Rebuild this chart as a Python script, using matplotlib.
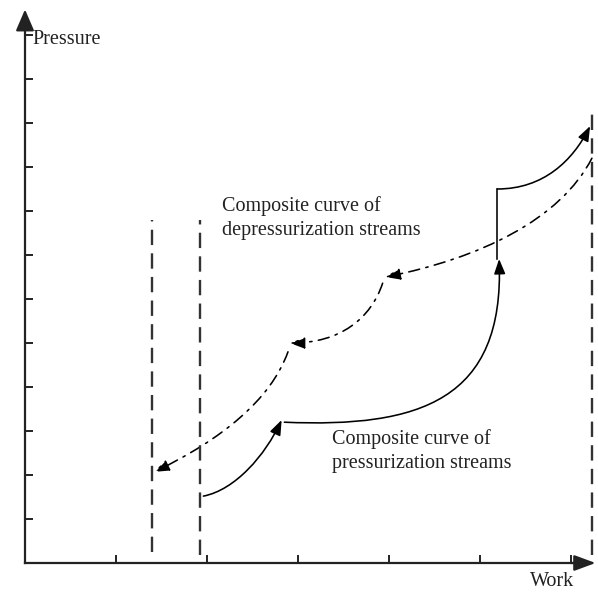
import matplotlib.pyplot as plt
from matplotlib.path import Path
from matplotlib.patches import FancyArrowPatch

plt.rcParams['font.family'] = ['Liberation Serif', 'DejaVu Serif']

# axis ticks (work / pressure units)
x_ticks = [1, 2, 3, 4, 5, 6]
y_ticks = [1, 2, 3, 4, 5, 6, 7, 8, 9, 10, 11, 12]

# vertical dashed bounds: x position, bottom, top
bound_x = [1.40, 1.92, 6.23]
bound_lo = [0.25, 0.18, 0.18]
bound_hi = [7.80, 7.80, 10.30]

# pressurization composite curve, cubic bezier pieces (start, ctrl1, ctrl2, end)
press_seg1 = [(1.96, 1.52), (2.31, 1.66), (2.64, 2.45), (2.82, 3.25)]
press_seg2 = [(2.85, 3.20), (4.34, 3.07), (5.27, 3.70), (5.21, 6.91)]
press_step = [(5.19, 6.91), (5.19, 8.50)]
press_seg3 = [(5.19, 8.50), (5.70, 8.50), (6.02, 9.15), (6.21, 9.93)]

# depressurization composite curve pieces
depr_seg1 = [(6.23, 9.20), (5.88, 7.80), (5.00, 6.93), (3.96, 6.50)]
depr_seg2 = [(3.93, 6.36), (3.80, 5.55), (3.46, 5.00), (2.91, 5.00)]
depr_seg3 = [(2.89, 4.80), (2.70, 3.70), (2.15, 2.80), (1.42, 2.07)]

fig = plt.figure(figsize=(5.98, 5.97), dpi=100)
ax = fig.add_axes([0, 0, 1, 1])
ax.set_xlim(-25 / 91, 573 / 91)
ax.set_ylim(-34 / 44, 563 / 44)

ink = '#222222'

# axes through the origin
for side in ['top', 'right']:
    ax.spines[side].set_visible(False)
ax.spines['left'].set_position(('data', 0))
ax.spines['bottom'].set_position(('data', 0))
ax.spines['left'].set_bounds(0, 12.3)
ax.spines['bottom'].set_bounds(0, 6.1)
for side in ['left', 'bottom']:
    ax.spines[side].set_linewidth(1.6)
    ax.spines[side].set_color(ink)
ax.set_xticks(x_ticks)
ax.set_yticks(y_ticks)
ax.set_xticklabels([])
ax.set_yticklabels([])
ax.tick_params(direction='in', length=6, width=1.4, color=ink)

ax.annotate('', xy=(0, 12.58), xytext=(0, 12.2),
            arrowprops=dict(arrowstyle='-|>,head_length=0.65,head_width=0.28',
                            color=ink, lw=1.6, shrinkA=0, shrinkB=0,
                            mutation_scale=20))
ax.annotate('', xy=(6.27, 0), xytext=(6.0, 0),
            arrowprops=dict(arrowstyle='-|>,head_length=0.65,head_width=0.24',
                            color=ink, lw=1.6, shrinkA=0, shrinkB=0,
                            mutation_scale=20))

ax.text(0.08, 11.89, 'Pressure', fontsize=14.5, color=ink, ha='left', va='center')
ax.text(5.55, -0.43, 'Work', fontsize=14.5, color=ink, ha='left', va='center')

# dashed bounds
for x, lo, hi in zip(bound_x, bound_lo, bound_hi):
    ax.plot([x, x], [lo, hi], color='#333333', lw=1.7, linestyle=(0, (6.5, 3.5)))

bez = [Path.MOVETO, Path.CURVE4, Path.CURVE4, Path.CURVE4]


def curve(pts, style, arrow):
    head = '-|>,head_length=0.45,head_width=0.17' if arrow else '-'
    p = FancyArrowPatch(path=Path(pts, bez),
                        arrowstyle=head, mutation_scale=20, lw=1.15,
                        color='black', linestyle=style)
    ax.add_patch(p)


dashdot = (0, (7, 4, 1.5, 4))

curve(press_seg1, '-', True)
curve(press_seg2, '-', True)
ax.plot(*zip(*press_step), color='black', lw=1.15)
curve(press_seg3, '-', True)

curve(depr_seg1, dashdot, True)
curve(depr_seg2, dashdot, True)
curve(depr_seg3, dashdot, True)

ax.text(2.165, 7.84, 'Composite curve of\ndepressurization streams',
        fontsize=14.5, color=ink, ha='left', va='center', linespacing=1.4)
ax.text(3.37, 2.545, 'Composite curve of\npressurization streams',
        fontsize=14.5, color=ink, ha='left', va='center', linespacing=1.4)

fig.savefig('out.png', dpi=100)
